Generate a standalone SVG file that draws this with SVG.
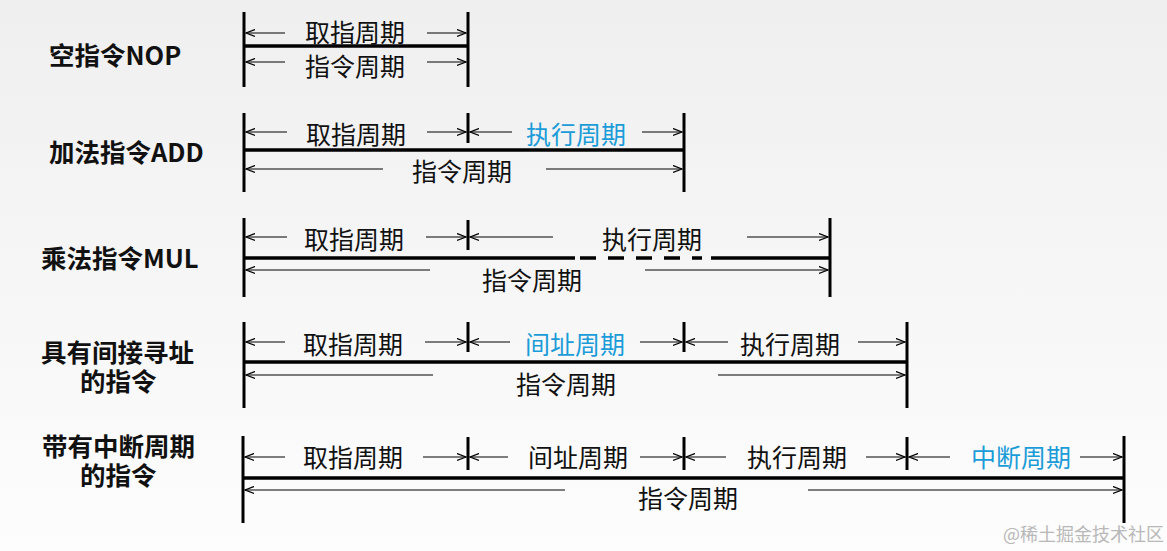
<svg xmlns="http://www.w3.org/2000/svg" width="1167" height="551" viewBox="0 0 1167 551">
<defs>
<linearGradient id="bg" x1="0" y1="0" x2="0" y2="1">
<stop offset="0" stop-color="#efefef"/>
<stop offset="1" stop-color="#fdfdfd"/>
</linearGradient>
<marker id="ah" markerWidth="10" markerHeight="9" refX="9" refY="4.5" orient="auto" markerUnits="userSpaceOnUse">
<path d="M0,1 L9,4.5 L0,8" fill="none" stroke="#000" stroke-width="1.3"/>
</marker>
<style>
.v{stroke:#000;stroke-width:3;fill:none}
.h{stroke:#000;stroke-width:3.5;fill:none}
.d{stroke:#000;stroke-width:3.5;fill:none;stroke-dasharray:16 12}
.a{stroke:#000;stroke-width:1.2;fill:none;marker-end:url(#ah)}
.t{font-family:"Noto Sans CJK SC","Noto Sans",sans-serif;font-size:25px;text-anchor:middle;dominant-baseline:central;fill:#111}
.b{fill:#1b9cd8}
.l{font-family:"Noto Sans CJK SC","Noto Sans",sans-serif;font-size:25.5px;font-weight:bold;dominant-baseline:central;fill:#111}
.w{font-family:"Noto Sans CJK SC",sans-serif;font-size:18px;fill:#b8b8b8;dominant-baseline:central}
</style>
</defs>
<rect width="1167" height="551" fill="url(#bg)"/>

<g id="labels">
<text class="l" x="49" y="53">空指令NOP</text>
<text class="l" x="49" y="150">加法指令ADD</text>
<text class="l" x="41" y="256">乘法指令MUL</text>
<text class="l" x="41" y="350">具有间接寻址</text>
<text class="l" x="80" y="379">的指令</text>
<text class="l" x="42" y="444">带有中断周期</text>
<text class="l" x="80" y="473">的指令</text>
</g>

<g id="row-nop">
<line class="v" x1="244" y1="12" x2="244" y2="87"/>
<line class="v" x1="468" y1="12" x2="468" y2="87"/>
<line class="h" x1="244" y1="46" x2="468" y2="46"/>
<text class="t" x="355" y="31">取指周期</text>
<text class="t" x="355" y="65">指令周期</text>
</g>

<g id="row-add">
<line class="v" x1="244" y1="113" x2="244" y2="192"/>
<line class="v" x1="468" y1="113" x2="468" y2="143"/>
<line class="v" x1="684" y1="113" x2="684" y2="192"/>
<line class="h" x1="244" y1="150" x2="684" y2="150"/>
<text class="t" x="356" y="133">取指周期</text>
<text class="t b" x="576" y="133">执行周期</text>
<text class="t" x="462" y="170">指令周期</text>
</g>

<g id="row-mul">
<line class="v" x1="244" y1="218" x2="244" y2="297"/>
<line class="v" x1="468" y1="220" x2="468" y2="250"/>
<line class="v" x1="830" y1="218" x2="830" y2="297"/>
<line class="h" x1="244" y1="258" x2="575" y2="258"/>
<line class="d" x1="580" y1="258" x2="702" y2="258"/>
<line class="h" x1="711" y1="258" x2="830" y2="258"/>
<text class="t" x="354" y="238">取指周期</text>
<text class="t" x="652" y="238">执行周期</text>
<text class="t" x="532" y="279">指令周期</text>
</g>

<g id="row-indirect">
<line class="v" x1="244" y1="322" x2="244" y2="408"/>
<line class="v" x1="468" y1="322" x2="468" y2="352"/>
<line class="v" x1="684" y1="322" x2="684" y2="352"/>
<line class="v" x1="907" y1="322" x2="907" y2="408"/>
<line class="h" x1="244" y1="362" x2="907" y2="362"/>
<text class="t" x="353" y="343">取指周期</text>
<text class="t b" x="575" y="343">间址周期</text>
<text class="t" x="790" y="343">执行周期</text>
<text class="t" x="566" y="383">指令周期</text>
</g>

<g id="row-interrupt">
<line class="v" x1="243" y1="436" x2="243" y2="523"/>
<line class="v" x1="468" y1="437" x2="468" y2="470"/>
<line class="v" x1="684" y1="437" x2="684" y2="470"/>
<line class="v" x1="907" y1="437" x2="907" y2="470"/>
<line class="v" x1="1124" y1="436" x2="1124" y2="523"/>
<line class="h" x1="243" y1="478" x2="1124" y2="478"/>
<text class="t" x="353" y="456">取指周期</text>
<text class="t" x="578" y="456">间址周期</text>
<text class="t" x="797" y="456">执行周期</text>
<text class="t b" x="1021" y="456">中断周期</text>
<text class="t" x="688" y="497">指令周期</text>
</g>

<g id="connectors">
<line class="a" x1="285" y1="33" x2="246" y2="33"/>
<line class="a" x1="427" y1="33" x2="466" y2="33"/>
<line class="a" x1="285" y1="62" x2="246" y2="62"/>
<line class="a" x1="427" y1="62" x2="466" y2="62"/>

<line class="a" x1="287" y1="132" x2="246" y2="132"/>
<line class="a" x1="427" y1="132" x2="466" y2="132"/>
<line class="a" x1="512" y1="132" x2="470" y2="132"/>
<line class="a" x1="642" y1="132" x2="682" y2="132"/>
<line class="a" x1="383" y1="169" x2="246" y2="169"/>
<line class="a" x1="546" y1="169" x2="682" y2="169"/>

<line class="a" x1="287" y1="237" x2="246" y2="237"/>
<line class="a" x1="426" y1="237" x2="466" y2="237"/>
<line class="a" x1="553" y1="237" x2="470" y2="237"/>
<line class="a" x1="747" y1="237" x2="828" y2="237"/>
<line class="a" x1="430" y1="270" x2="246" y2="270"/>
<line class="a" x1="645" y1="270" x2="828" y2="270"/>

<line class="a" x1="285" y1="342" x2="246" y2="342"/>
<line class="a" x1="425" y1="342" x2="466" y2="342"/>
<line class="a" x1="510" y1="342" x2="470" y2="342"/>
<line class="a" x1="640" y1="342" x2="682" y2="342"/>
<line class="a" x1="728" y1="342" x2="686" y2="342"/>
<line class="a" x1="858" y1="342" x2="905" y2="342"/>
<line class="a" x1="433" y1="375" x2="246" y2="375"/>
<line class="a" x1="718" y1="375" x2="905" y2="375"/>

<line class="a" x1="285" y1="457" x2="245" y2="457"/>
<line class="a" x1="423" y1="457" x2="466" y2="457"/>
<line class="a" x1="508" y1="457" x2="470" y2="457"/>
<line class="a" x1="640" y1="457" x2="682" y2="457"/>
<line class="a" x1="726" y1="457" x2="686" y2="457"/>
<line class="a" x1="866" y1="457" x2="905" y2="457"/>
<line class="a" x1="950" y1="457" x2="909" y2="457"/>
<line class="a" x1="1080" y1="457" x2="1122" y2="457"/>
<line class="a" x1="565" y1="490" x2="245" y2="490"/>
<line class="a" x1="808" y1="490" x2="1122" y2="490"/>
</g>

<text class="w" x="1003" y="533">@稀土掘金技术社区</text>
</svg>
